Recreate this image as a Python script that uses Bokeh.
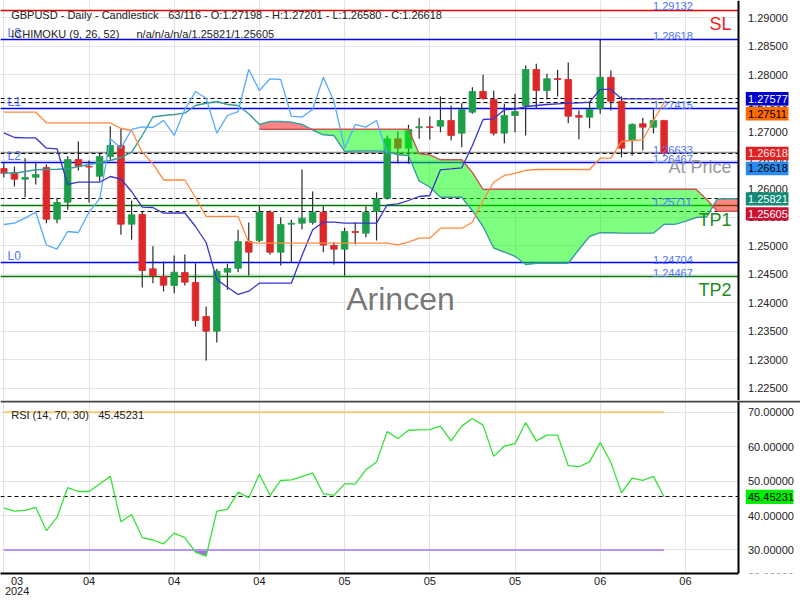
import numpy as np
from bokeh.plotting import figure
from bokeh.models import Range1d, FixedTicker, Grid, Span, Label, ColumnDataSource
from bokeh.layouts import column
from bokeh.embed import file_html
from bokeh.resources import INLINE
from bokeh.core.properties import value

FONT = "Liberation Sans"

# ---------------- data ----------------
opens = [1.26354, 1.26284, 1.26167, 1.26202, 1.26372, 1.25465, 1.25763, 1.26512, 1.26390, 1.26219,
         1.26565, 1.26758, 1.25377, 1.25548, 1.24595, 1.24460, 1.24302, 1.24530, 1.24355, 1.23758,
         1.23500, 1.24535, 1.24605, 1.25074, 1.25091, 1.25588, 1.24886, 1.25377, 1.25395, 1.25407,
         1.25588, 1.25004, 1.24939, 1.25249, 1.25220, 1.25600, 1.25834, 1.26876, 1.26711, 1.27069,
         1.27086, 1.27097, 1.27197, 1.26974, 1.27342, 1.27705, 1.27565, 1.26974, 1.27284, 1.27460,
         1.28091, 1.27723, 1.27933, 1.27916, 1.27284, 1.27255, 1.27402, 1.27956, 1.27535, 1.26846,
         1.27139, 1.27080, 1.27198]
highs = [1.26460, 1.26390, 1.26535, 1.26448, 1.26425, 1.25823, 1.26570, 1.26828, 1.26495, 1.26612,
         1.27097, 1.27062, 1.25793, 1.25600, 1.24991, 1.24723, 1.24828, 1.24846, 1.24693, 1.23934,
         1.24595, 1.24683, 1.25279, 1.25407, 1.25693, 1.25618, 1.25500, 1.25455, 1.26337, 1.25951,
         1.25693, 1.25062, 1.25314, 1.25412, 1.25693, 1.25939, 1.26934, 1.27009, 1.27121, 1.27244,
         1.27267, 1.27618, 1.27460, 1.27500, 1.27781, 1.27998, 1.27723, 1.27490, 1.27665, 1.28161,
         1.28191, 1.28016, 1.28086, 1.28214, 1.27372, 1.27530, 1.28612, 1.28074, 1.27618, 1.27149,
         1.27244, 1.27390, 1.27201]
lows = [1.26197, 1.26039, 1.25851, 1.26074, 1.25395, 1.25395, 1.25630, 1.26320, 1.25758, 1.26132,
        1.26507, 1.25191, 1.25104, 1.24267, 1.24342, 1.24197, 1.24167, 1.24302, 1.23588, 1.22986,
        1.23302, 1.24227, 1.24535, 1.24477, 1.25062, 1.24846, 1.24653, 1.24711, 1.25284, 1.25372,
        1.24886, 1.24670, 1.24477, 1.25021, 1.25149, 1.25091, 1.25811, 1.26437, 1.26437, 1.26876,
        1.26863, 1.26991, 1.26846, 1.26728, 1.27314, 1.27560, 1.26934, 1.26798, 1.26991, 1.26934,
        1.27402, 1.27565, 1.27618, 1.27149, 1.26869, 1.27062, 1.27314, 1.27372, 1.26553, 1.26577,
        1.26670, 1.26969, 1.26580]
closes = [1.26272, 1.26167, 1.26197, 1.26249, 1.25465, 1.25758, 1.26512, 1.26395, 1.26379, 1.26565,
          1.26758, 1.25377, 1.25542, 1.24565, 1.24472, 1.24307, 1.24535, 1.24360, 1.23688, 1.23500,
          1.24553, 1.24600, 1.25074, 1.24886, 1.25588, 1.24886, 1.25372, 1.25395, 1.25483, 1.25588,
          1.25012, 1.24939, 1.25249, 1.25232, 1.25588, 1.25823, 1.26876, 1.26711, 1.27039, 1.27086,
          1.27074, 1.27197, 1.26934, 1.27390, 1.27705, 1.27588, 1.26974, 1.27284, 1.27354, 1.28091,
          1.27723, 1.27928, 1.27916, 1.27272, 1.27255, 1.27390, 1.27956, 1.27535, 1.26711, 1.27127,
          1.27080, 1.27197, 1.26618]

tenkan = [1.26981, 1.26898, 1.26890, 1.26890, 1.26711, 1.26700, 1.26074, 1.26114, 1.26114, 1.26114,
          1.26214, 1.26167, 1.25951, 1.25676, 1.25670, 1.25570, 1.25574, 1.25574, 1.25337, 1.25056,
          1.24407, 1.24272, 1.24144, 1.24202, 1.24342, 1.24342, 1.24342, 1.24342, 1.24828, 1.25279,
          1.25412, 1.25412, 1.25395, 1.25395, 1.25395, 1.25395, 1.25718, 1.25735, 1.25793, 1.25863,
          1.25881, 1.26332, 1.26349, 1.26367, 1.26758, 1.27214, 1.27226, 1.27384, 1.27398, 1.27442,
          1.27460, 1.27477, 1.27489, 1.27500, 1.27507, 1.27518, 1.27741, 1.27741, 1.27577, 1.27577,
          1.27577, 1.27577, 1.27577]
kijun = [1.27342, 1.27342, 1.27342, 1.27342, 1.27156, 1.27156, 1.27156, 1.27156, 1.27156, 1.27156,
         1.27156, 1.27056, 1.27021, 1.26641, 1.26437, 1.26153, 1.26153, 1.26153, 1.25846, 1.25513,
         1.25513, 1.25513, 1.25513, 1.25062, 1.25044, 1.25044, 1.25044, 1.25044, 1.25044, 1.25044,
         1.25044, 1.25044, 1.25044, 1.25044, 1.25044, 1.25044, 1.25044, 1.25016, 1.25062, 1.25132,
         1.25132, 1.25307, 1.25307, 1.25307, 1.25412, 1.25793, 1.26114, 1.26232, 1.26267, 1.26320,
         1.26337, 1.26337, 1.26337, 1.26337, 1.26337, 1.26337, 1.26535, 1.26535, 1.26828, 1.26846,
         1.26858, 1.27197, 1.27511]
# Senkou span A, already displaced 26 bars forward: bars 0 .. 69
senkou_a = [1.26276, 1.26272, 1.26302, 1.26332, 1.26337, 1.26342, 1.26349, 1.26390, 1.26425, 1.26460,
            1.26495, 1.26547, 1.26641, 1.26933, 1.27258, 1.27284, 1.27302, 1.27325, 1.27460, 1.27500,
            1.27530, 1.27477, 1.27460, 1.27314, 1.27127, 1.27179, 1.27179, 1.27167, 1.27127, 1.27030,
            1.26946, 1.26933, 1.26653, 1.26662, 1.26662, 1.26662, 1.26653, 1.26595, 1.26583, 1.26135,
            1.26030, 1.25851, 1.25851, 1.25851, 1.25614, 1.25337, 1.24960, 1.24890, 1.24814, 1.24670,
            1.24693, 1.24693, 1.24693, 1.24693, 1.24934, 1.25162, 1.25228, 1.25228, 1.25220, 1.25220,
            1.25220, 1.25220, 1.25377, 1.25375, 1.25428, 1.25495, 1.25507, 1.25820, 1.25825, 1.25821]
# Senkou span B, displaced: bars 24 .. 69
senkou_b_start = 24
senkou_b = [1.27044, 1.27044, 1.27044, 1.27044, 1.27044, 1.27044, 1.27044, 1.27044, 1.27044, 1.27044,
            1.27044, 1.27044, 1.27044, 1.27044, 1.27044, 1.26612, 1.26595, 1.26507, 1.26507, 1.26507,
            1.26285, 1.25986, 1.25990, 1.25990, 1.25990, 1.25990, 1.25990, 1.25990, 1.25990, 1.25990,
            1.25990, 1.25990, 1.25990, 1.25990, 1.25990, 1.25990, 1.25990, 1.25990, 1.25990, 1.25990,
            1.25990, 1.25990, 1.25811, 1.25605, 1.25605, 1.25605]
chikou_shift = 26

rsi = [42.2, 41.3, 41.5, 42.4, 35.6, 39.5, 48.1, 47.0, 47.0, 49.2,
       51.4, 38.2, 40.3, 33.6, 32.9, 31.8, 34.9, 33.6, 29.4, 28.2,
       41.3, 41.8, 46.8, 45.2, 52.0, 45.9, 50.2, 50.4, 51.3, 52.4,
       46.4, 45.9, 49.2, 49.2, 53.3, 55.6, 64.4, 62.4, 64.8, 64.9,
       65.0, 66.0, 61.7, 66.0, 68.2, 66.3, 57.2, 60.2, 60.9, 67.0,
       61.7, 63.4, 63.4, 54.5, 54.2, 55.6, 61.2, 55.5, 46.6, 50.9,
       50.2, 51.4, 45.45231]
rsi_overbought = 70
rsi_oversold = 30

price_ticks = [1.225, 1.230, 1.235, 1.240, 1.245, 1.250, 1.255, 1.260, 1.265, 1.270, 1.275, 1.280, 1.285, 1.290]
rsi_ticks = [20, 30, 40, 50, 60, 70]
date_ticks = [0, 8, 16, 24, 32, 40, 48, 56, 64]
date_labels = ["03", "04", "04", "04", "05", "05", "05", "06", "06"]
first_year = "2024"
total_bars = 116

sl_level = 1.29132
l_levels = {"L3": 1.28618, "L1": 1.27415, "L2": 1.26467, "L0": 1.24704}
tp_levels = {"TP1": 1.25711, "TP2": 1.24467}
at_price_level = 1.26633

tenkan_last = 1.27577
kijun_last = 1.27511
close_last = 1.26618
senkou_a_last = 1.25821
senkou_b_last = 1.25605

# ---------------- layout helpers (reference pixels -> data units) ----------------
W, H_MAIN, H_RSI_FIG = 800, 400, 200


def xr(px):
    return (px - 3.3) / 10.65


def yr(py):
    return 1.293018 - py / 5700.0


def rr(py):
    return 70.0 - (py - 412.7) / 3.48


GRID = "#e3e3e3"
x_range = Range1d(xr(0), xr(800))
AXIS_X = xr(738)


def add_grids(p, yticks):
    p.grid.visible = False
    p.add_layout(Grid(dimension=0, ticker=FixedTicker(ticks=date_ticks), grid_line_color=GRID, grid_line_width=1))
    p.add_layout(Grid(dimension=1, ticker=FixedTicker(ticks=yticks), grid_line_color=GRID, grid_line_width=1))


def lab(p, x, y, text, color, size, align="left", baseline="middle", **kw):
    p.add_layout(Label(x=x, y=y, text=text, text_color=color, text_font=FONT, text_font_size=size,
                       text_align=align, text_baseline=baseline, **kw))


def price_scale(p, yrange, ticks, tag_rows, tag_half, tag_right, label_y=None):
    """right-hand price scale: blank area, axis line, tick labels and coloured value tags"""
    p.quad(left=AXIS_X, right=x_range.end, bottom=yrange.start, top=yrange.end,
           fill_color="white", line_color=None)
    p.vspan(x=[AXIS_X], line_color="black", line_width=2)
    ys = ticks if label_y is None else label_y
    p.text(x=[xr(747.5)] * len(ticks), y=ys, text=[f"{t:.5f}" for t in ticks],
           text_font=value(FONT), text_font_size=value("11px"), text_color="#222222",
           text_align="left", text_baseline="middle")
    src = ColumnDataSource(dict(
        y=[r[0] for r in tag_rows], bottom=[r[0] - tag_half for r in tag_rows],
        top=[r[0] + tag_half for r in tag_rows], text=[r[1] for r in tag_rows],
        bg=[r[2] for r in tag_rows], fg=[r[3] for r in tag_rows]))
    p.quad(left=xr(745.3), right=xr(tag_right), bottom="bottom", top="top", fill_color="bg",
           line_color=None, source=src)
    p.text(x=xr(747.5), y="y", text="text", text_color="fg", source=src, text_font=value(FONT),
           text_font_size=value("11px"), text_align="left", text_baseline="middle")


# ---------------- main (price) panel ----------------
y_main = Range1d(yr(400), yr(0))
p1 = figure(width=W, height=H_MAIN, x_range=x_range, y_range=y_main,
            output_backend="svg", toolbar_location=None, x_axis_location=None, y_axis_location=None,
            min_border=0, outline_line_color=None, background_fill_color="white", border_fill_color="white")
add_grids(p1, price_ticks)

# level lines
p1.hspan(y=[sl_level], line_color="#e00000", line_width=1.5)
p1.hspan(y=list(l_levels.values()), line_color="#0000ff", line_width=1.5)
p1.hspan(y=list(tp_levels.values()), line_color="#007a00", line_width=1.5)
p1.hspan(y=[at_price_level], line_color="#8c8c8c", line_width=1.5)
p1.hspan(y=[tenkan_last, kijun_last, close_last, senkou_a_last, senkou_b_last],
         line_color="black", line_width=1.2, line_dash="4 3")

# candles
n = len(closes)
idx = np.arange(n)
o = np.array(opens)
c = np.array(closes)
colors = np.where(c >= o, "#1f9e4a", "#dc2828")
src = ColumnDataSource(dict(x=idx, top=np.maximum(o, c), bottom=np.minimum(o, c),
                            high=highs, low=lows, color=colors))
p1.segment(x0="x", y0="low", x1="x", y1="high", source=src, line_color="#2b2b2b", line_width=1.2)
p1.vbar(x="x", width=0.62, top="top", bottom="bottom", fill_color="color", line_color="color",
        line_width=0.8, source=src)


# cloud (green where span B is above span A, red otherwise)
def cloud_polys(xs, a, b):
    green, red = [], []

    def flush(sign, top, bot):
        px = [q[0] for q in top] + [q[0] for q in reversed(bot)]
        py = [q[1] for q in top] + [q[1] for q in reversed(bot)]
        (green if sign > 0 else red).append((px, py))

    sign = None
    top, bot = [], []
    for k in range(len(xs)):
        s = 1 if b[k] >= a[k] else -1
        if sign is None:
            sign = s
        elif s != sign:
            d0 = b[k - 1] - a[k - 1]
            d1 = b[k] - a[k]
            t = d0 / (d0 - d1)
            xc = xs[k - 1] + t * (xs[k] - xs[k - 1])
            yc = a[k - 1] + t * (a[k] - a[k - 1])
            top.append((xc, yc))
            bot.append((xc, yc))
            flush(sign, top, bot)
            top, bot = [(xc, yc)], [(xc, yc)]
            sign = s
        top.append((xs[k], a[k]))
        bot.append((xs[k], b[k]))
    flush(sign, top, bot)
    return green, red


b_x = list(range(senkou_b_start, senkou_b_start + len(senkou_b)))
a_part = senkou_a[senkou_b_start:senkou_b_start + len(senkou_b)]
g_polys, r_polys = cloud_polys(b_x, a_part, senkou_b)
p1.patches(xs=[q[0] for q in g_polys], ys=[q[1] for q in g_polys], fill_color="#00ff00",
           fill_alpha=0.5, line_color=None)
p1.patches(xs=[q[0] for q in r_polys], ys=[q[1] for q in r_polys], fill_color="#ff0000",
           fill_alpha=0.48, line_color=None)

# ichimoku lines
p1.line(list(range(senkou_b_start)) + b_x, senkou_a, line_color="#3a9c9c", line_width=1.4)
p1.line(b_x, senkou_b, line_color="#cc5555", line_width=1.4)
p1.line(list(range(n - chikou_shift)), closes[chikou_shift:], line_color="#55aaff", line_width=1.3)
p1.line(idx, tenkan, line_color="#3434cc", line_width=1.3)
p1.line(idx, kijun, line_color="#ff8a3d", line_width=1.3)

# price scale with stacked value tags
tags = [(tenkan_last, "#0000cc", "white"), (kijun_last, "#ff6a00", "black"),
        (close_last, "#dd2222", "#ffe8e8"), (close_last, "#2a8cf0", "black"),
        (senkou_a_last, "#138a76", "white"), (senkou_b_last, "#cc1133", "white")]
gap = 15 / 5700.0
rows, prev = [], None
for v, bg, fg in tags:
    disp = v if prev is None else min(v, prev - gap)
    prev = disp
    rows.append((disp, f"{v:.5f}", bg, fg))
price_scale(p1, y_main, price_ticks, rows, 6.7 / 5700.0, 788)

# level value labels (just above their lines)
VAL_COLOR = "#4f72ff"
lab(p1, xr(652.5), sl_level, f"{sl_level:.5f}", VAL_COLOR, "11px", baseline="alphabetic", y_offset=4.5)
for v in [at_price_level] + list(l_levels.values()) + list(tp_levels.values()):
    lab(p1, xr(652.5), v, f"{v:.5f}", VAL_COLOR, "11px", baseline="alphabetic", y_offset=3)
for name, v in l_levels.items():
    lab(p1, xr(7), v, name, VAL_COLOR, "12px", baseline="alphabetic", y_offset=6.5)

lab(p1, xr(731), yr(23), "SL", "#f01e1e", "18px", align="right")
lab(p1, xr(731), yr(166.5), "At Price", "#9a9a9a", "18px", align="right")
lab(p1, xr(731), yr(219.5), "TP1", "#1e8c1e", "18px", align="right")
lab(p1, xr(731), yr(289.5), "TP2", "#1e8c1e", "18px", align="right")
lab(p1, xr(400), yr(298), "Arincen", "#666666", "32px", align="center", text_alpha=0.9)

# header
lab(p1, xr(10.7), yr(14), "GBPUSD - Daily - Candlestick", "#222222", "11px")
lab(p1, xr(167.7), yr(14),
    f"{n}/{total_bars} - O:{opens[-1]:.5f} - H:{highs[-1]:.5f} - L:{lows[-1]:.5f} - C:{closes[-1]:.5f}",
    "#222222", "11px")
lab(p1, xr(10.7), yr(33.5), "ICHIMOKU (9, 26, 52)", "#222222", "11px")
lab(p1, xr(136), yr(33.5), f"n/a/n/a/n/a/{senkou_a_last:.5f}/{senkou_b_last:.5f}", "#222222", "11px")

# ---------------- RSI panel ----------------
y_rsi = Range1d(rr(575.7), rr(400.7))
p2 = figure(width=W, height=H_RSI_FIG, x_range=x_range, y_range=y_rsi,
            output_backend="svg", toolbar_location=None, x_axis_location="below", y_axis_location=None,
            min_border=0, outline_line_color=None, background_fill_color="white", border_fill_color="white")
add_grids(p2, rsi_ticks)

xa = p2.xaxis[0]
label_ticks = [1.25] + date_ticks[1:]
xa.ticker = FixedTicker(ticks=label_ticks)
xa.major_label_overrides = {t: (f"{date_labels[0]}\n{first_year}" if i == 0 else date_labels[i])
                            for i, t in enumerate(label_ticks)}
xa.bounds = (x_range.start, AXIS_X)
xa.major_tick_line_color = None
xa.minor_tick_line_color = None
xa.major_tick_out = 0
xa.major_tick_in = 0
xa.minor_tick_out = 0
xa.major_label_standoff = 1
xa.axis_line_color = "black"
xa.axis_line_width = 2
xa.major_label_text_font = FONT
xa.major_label_text_font_size = "11px"
xa.major_label_text_color = "#222222"
xa.major_label_text_line_height = 0.9

p2.hspan(y=[rsi[-1]], line_color="black", line_width=1.2, line_dash="4 3")

ri = list(range(len(rsi)))
p2.line([ri[0], ri[-1]], [rsi_overbought, rsi_overbought], line_color="#f6c97c", line_width=2)


def below_polys(xs, ys, level):
    polys, cur = [], None
    for k in range(len(xs)):
        below = ys[k] < level
        if k > 0:
            if below != (ys[k - 1] < level):
                t = (level - ys[k - 1]) / (ys[k] - ys[k - 1])
                xc = xs[k - 1] + t * (xs[k] - xs[k - 1])
                if below:
                    cur = [(xc, level)]
                else:
                    cur.append((xc, level))
                    polys.append(cur)
                    cur = None
        elif below:
            cur = [(xs[k], level)]
        if below:
            cur.append((xs[k], ys[k]))
    if cur:
        cur.append((xs[-1], level))
        polys.append(cur)
    return polys


os_polys = below_polys(ri, rsi, rsi_oversold)
p2.patches(xs=[[q[0] for q in pl] for pl in os_polys], ys=[[q[1] for q in pl] for pl in os_polys],
           fill_color="#9a66dd", fill_alpha=0.9, line_color=None)
p2.line([ri[0], ri[-1]], [rsi_oversold, rsi_oversold], line_color="#b795ee", line_width=2)
p2.line(ri, rsi, line_color="#36e036", line_width=1.3)

# RSI scale (the 20 label sits half below the panel, as in the original)
rsi_label_y = [rr(579.5) if t == 20 else t for t in rsi_ticks]
price_scale(p2, y_rsi, rsi_ticks, [(rsi[-1], f"{rsi[-1]:.5f}", "#00ee00", "black")], 7.2 / 3.48, 793,
            label_y=rsi_label_y)
p2.add_layout(Span(location=rr(401.6), dimension="width", line_color="#444444", line_width=2))

lab(p2, xr(10.7), rr(415.5), "RSI (14, 70, 30)", "#222222", "11px")
lab(p2, xr(97.7), rr(415.5), f"{rsi[-1]:.5f}", "#222222", "11px")

layout = column(p1, p2, spacing=0)
open("out.html", "w").write(file_html(layout, INLINE))
